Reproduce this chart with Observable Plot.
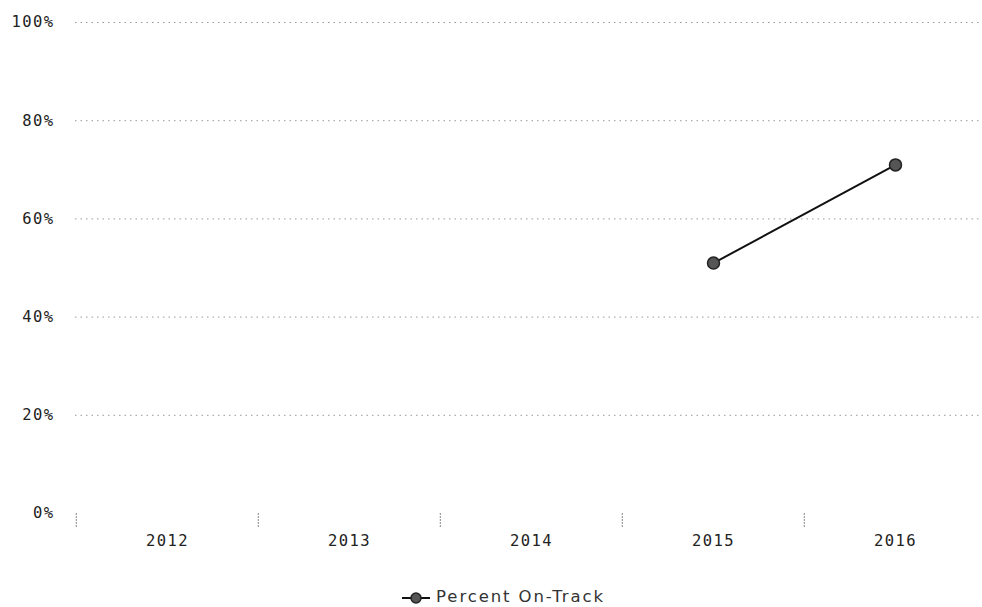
<!DOCTYPE html>
<html>
<head>
<meta charset="utf-8">
<script src="https://cdn.jsdelivr.net/npm/d3@7"></script>
<script src="https://cdn.jsdelivr.net/npm/@observablehq/plot@0.6"></script>
<style>
  body { margin: 0; background: #fff; }
  #chart { width: 982px; }
  .legend { font-family: "DejaVu Sans", sans-serif; font-size: 16.5px; letter-spacing: 1.9px; color: #333; text-align: center; height: 30px; line-height: 20px; margin-top: 15px; margin-left: 24px; }
  .legend svg { vertical-align: -2px; margin-right: 5px; }
</style>
</head>
<body>
<div id="chart"></div>
<script>
const years = ["2012", "2013", "2014", "2015", "2016"];
const yearsWithData = ["2015", "2016"];
const percentOnTrack = [51, 71];
const yTicks = [0, 20, 40, 60, 80, 100];
const seriesName = "Percent On-Track";

const data = yearsWithData.map((y, i) => ({year: y, value: percentOnTrack[i]}));
const rangeX = [75, 987];
const step = (rangeX[1] - rangeX[0]) / years.length;

const plot = Plot.plot({
  width: 982,
  height: 572,
  marginLeft: 75,
  marginRight: 0,
  marginTop: 22,
  marginBottom: 59,
  style: {fontFamily: "'DejaVu Sans Mono', monospace", fontSize: "15.5px", color: "#222", background: "#fff", letterSpacing: "1.4px"},
  x: {type: "band", domain: years, range: rangeX, padding: 0},
  y: {domain: [0, 100], label: null},
  marks: [
    Plot.ruleY(yTicks.filter(d => d > 0), {y: d => d, stroke: "#999", strokeDasharray: "1.5,4", strokeWidth: 1}),
    Plot.axisY({ticks: yTicks, tickFormat: d => d + "%", tickSize: 0, tickPadding: 21, fontSize: 15.5, label: null}),
    Plot.axisX({tickFormat: null, tickSize: 14, dx: -step / 2, stroke: "#888", strokeDasharray: "2,1", label: null}),
    Plot.axisX({tickSize: 0, tickPadding: 21, label: null, fontSize: 15.5}),
    Plot.line(data, {x: "year", y: "value", stroke: "#111", strokeWidth: 2}),
    Plot.dot(data, {x: "year", y: "value", r: 6, fill: "#555", stroke: "#222", strokeWidth: 1.5})
  ]
});
document.getElementById("chart").appendChild(plot);

const legend = document.createElement("div");
legend.className = "legend";
legend.innerHTML = `<svg width="30" height="12"><line x1="1" x2="29" y1="6" y2="6" stroke="#111" stroke-width="2"></line><circle cx="15" cy="6" r="5" fill="#555" stroke="#222" stroke-width="1.5"></circle></svg>${seriesName}`;
document.getElementById("chart").appendChild(legend);
</script>
</body>
</html>
